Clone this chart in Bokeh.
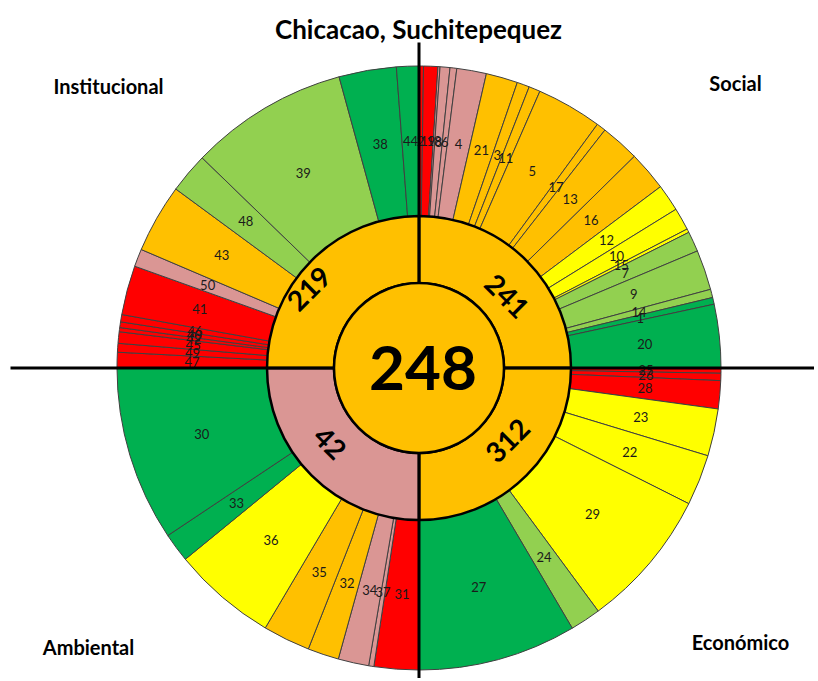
import numpy as np
from bokeh.plotting import figure
from bokeh.models import Range1d, ColumnDataSource
from bokeh.core.properties import value
from bokeh.embed import file_html
from bokeh.resources import INLINE

# ---------------- data ----------------
title_text = "Chicacao, Suchitepequez"
center_value = 248
center_level = "O"

dimensions = ["Social", "Económico", "Ambiental", "Institucional"]
dimension_values = [241, 312, 42, 219]
dimension_levels = ["O", "O", "P", "O"]

social_ids = [2, 19, 18, 8, 6, 4, 21, 3, 11, 5, 17, 13, 16, 12, 10, 15, 7, 9, 14, 1, 20]
social_weights = [0.86, 2.74, 0.4, 1.9, 1.3, 5.7, 6.1, 2.4, 2.2, 12.6, 1.8, 7.5,
                  7.6, 5.2, 4.3, 0.7, 3.9, 7.7, 1.6, 1.3, 12.2]
social_levels = ["R", "R", "P", "P", "P", "P", "O", "O", "O", "O", "O", "O", "O",
                 "Y", "Y", "Y", "LG", "LG", "LG", "G", "G"]

economico_ids = [25, 26, 28, 23, 22, 29, 24, 27]
economico_weights = [1.0, 1.4, 5.4, 9.1, 9.8, 26.9, 5.9, 30.5]
economico_levels = ["R", "R", "R", "Y", "Y", "Y", "LG", "G"]

ambiental_ids = [31, 37, 34, 32, 35, 36, 33, 30]
ambiental_weights = [8.6, 1.0, 5.9, 6.0, 9.1, 20.1, 5.6, 33.7]
ambiental_levels = ["R", "P", "P", "O", "O", "Y", "G", "G"]

institucional_ids = [47, 49, 45, 42, 40, 46, 41, 50, 43, 48, 39, 38, 44]
institucional_weights = [3.0, 1.7, 2.2, 0.8, 1.1, 1.4, 9.5, 3.4, 13.25, 7.75, 30.55, 11.05, 4.3]
institucional_levels = ["R", "R", "R", "R", "R", "R", "R", "P", "O", "LG", "LG", "G", "G"]

level_colors = {"R": "#FF0000", "P": "#DA9694", "O": "#FFC000",
                "Y": "#FFFF00", "LG": "#92D050", "G": "#00B050"}

# ---------------- geometry / style ----------------
R_CENTER = 85
R_MID = 152
R_OUT = 302
R_LABEL = 227
FONT = "Lato"

W, H = 814, 678
CX, CY = 418.5, 367.5  # centre in figure pixels (from left / from top)

p = figure(width=W, height=H, output_backend="svg", toolbar_location=None,
           x_range=Range1d(-CX, W - CX), y_range=Range1d(-(H - CY), CY),
           min_border=0, border_fill_color="white", background_fill_color="white")
p.xaxis.visible = False
p.yaxis.visible = False
p.grid.visible = False
p.outline_line_color = None


def cw_to_math(theta_deg):
    return np.radians(90.0 - np.asarray(theta_deg, dtype=float))


# outer ring
quads = [(social_ids, social_weights, social_levels),
         (economico_ids, economico_weights, economico_levels),
         (ambiental_ids, ambiental_weights, ambiental_levels),
         (institucional_ids, institucional_weights, institucional_levels)]

starts, ends, cols, labs, mids = [], [], [], [], []
for q, (ids, ws, lv) in enumerate(quads):
    ws = np.array(ws, dtype=float)
    span = ws / ws.sum() * 90.0
    b = q * 90.0 + np.concatenate([[0.0], np.cumsum(span)])
    for i in range(len(ids)):
        starts.append(b[i])
        ends.append(b[i + 1])
        cols.append(level_colors[lv[i]])
        labs.append(str(ids[i]))
        mids.append((b[i] + b[i + 1]) / 2.0)

mids = np.array(mids)
outer = ColumnDataSource(dict(
    start=cw_to_math(ends), end=cw_to_math(starts), color=cols,
    lx=R_LABEL * np.sin(np.radians(mids)), ly=R_LABEL * np.cos(np.radians(mids)),
    label=labs))

p.annular_wedge(x=0, y=0, inner_radius=R_MID, outer_radius=R_OUT,
                start_angle="start", end_angle="end", fill_color="color",
                line_color="#404040", line_width=1, source=outer)

p.text(x="lx", y="ly", text="label", source=outer, text_align="center",
       text_baseline="middle", text_font=value(FONT), text_font_size="13px",
       text_color="#1a1a1a")

# middle ring
q_start = np.arange(4) * 90.0
mid_src = ColumnDataSource(dict(
    start=cw_to_math(q_start + 90.0), end=cw_to_math(q_start),
    color=[level_colors[l] for l in dimension_levels]))
p.annular_wedge(x=0, y=0, inner_radius=R_CENTER, outer_radius=R_MID,
                start_angle="start", end_angle="end", fill_color="color",
                line_color="black", line_width=2.5, source=mid_src)

# cross lines
p.segment(x0=[0, -(CX - 10)], y0=[CY - 42, 0], x1=[0, W - CX], y1=[-(H - CY), 0],
          line_color="black", line_width=3)

# centre
p.circle(x=[0], y=[0], radius=R_CENTER, fill_color=level_colors[center_level],
         line_color="black", line_width=2.5)
p.text(x=[4], y=[0], text=[str(center_value)], text_align="center",
       text_baseline="middle", text_font=value(FONT), text_font_style="bold",
       text_font_size="62px", text_color="black")

# ring value labels (radius, clockwise angle, rotation)
ring_r = [114, 114, 116, 136]
ring_t = [50.7, 129.3, 229.9, 305.8]
ring_rot = [-45, 45, -45, 45]
rt = np.radians(ring_t)
p.text(x=np.array(ring_r) * np.sin(rt), y=np.array(ring_r) * np.cos(rt),
       text=[str(v) for v in dimension_values], angle=np.radians(ring_rot),
       text_align="center", text_baseline="middle", text_font=value(FONT),
       text_font_style="bold", text_font_size="28px", text_color="black")

# title and dimension names
p.text(x=[-0.5], y=[CY - 28], text=[title_text], text_align="center",
       text_baseline="middle", text_font=value(FONT), text_font_style="bold",
       text_font_size="26px", text_color="black")

dim_x = [316.5, 321.5, -330.5, -310.5]
dim_y = [285.5, -273.5, -278.5, 282.5]
p.text(x=dim_x, y=dim_y, text=dimensions, text_align="center",
       text_baseline="middle", text_font=value(FONT), text_font_style="bold",
       text_font_size="20px", text_color="black")

open("out.html", "w").write(file_html(p, INLINE))
